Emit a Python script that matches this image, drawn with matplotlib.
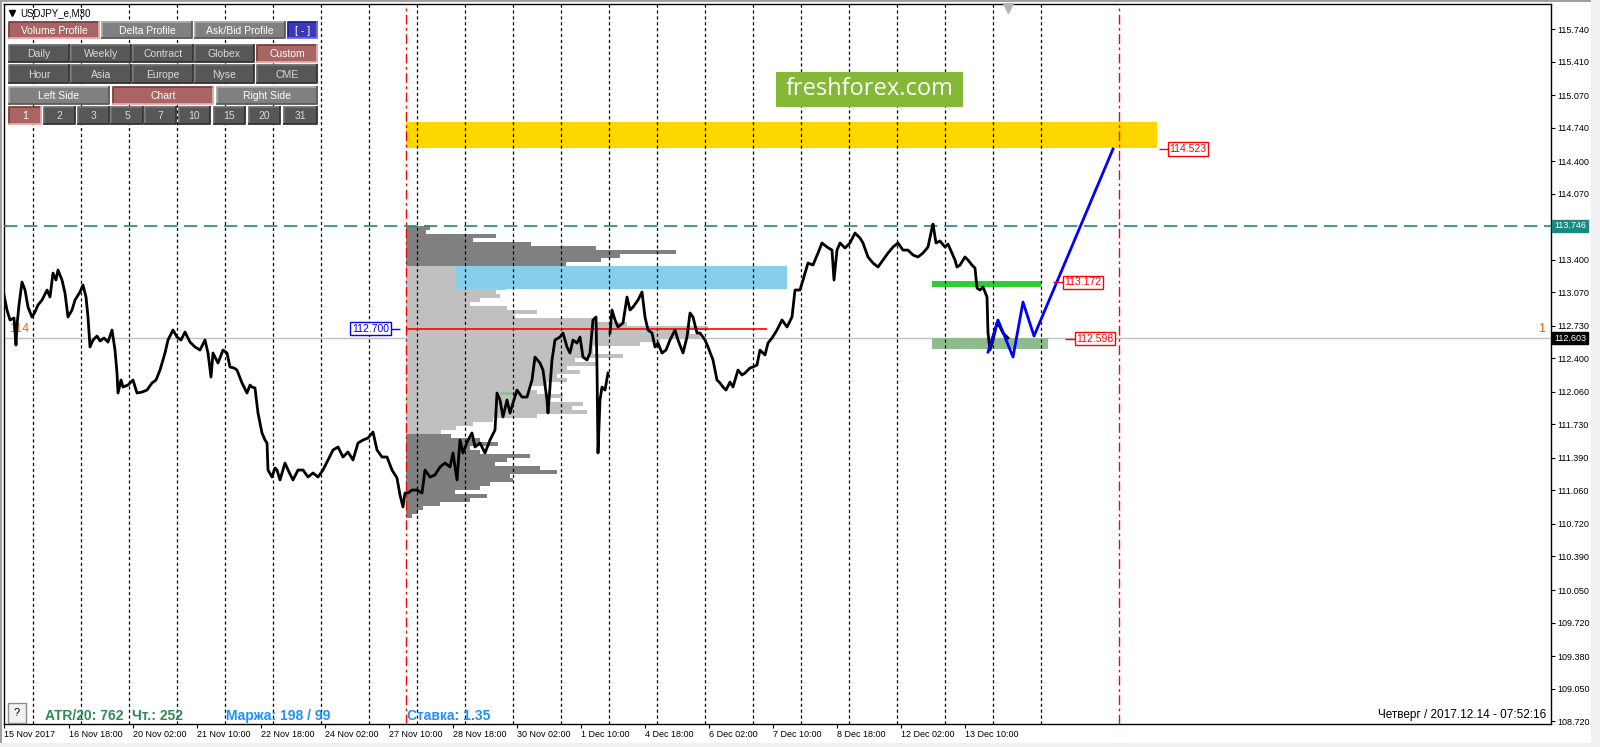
import matplotlib
matplotlib.use('Agg')
import matplotlib.pyplot as plt
from matplotlib.patches import Rectangle
import numpy as np

plt.rcParams['font.family'] = ['Liberation Sans', 'DejaVu Sans']

W, H = 1600, 747

SYMBOL = 'USDJPY_e,M30'

# M30 closes, x = bar position on screen (one bar per pixel)
PRICE_BAR = [
    4, 7, 10, 14, 16, 17, 19, 22, 25, 28,
    32, 35, 38, 42, 47, 50, 53, 56, 58, 62,
    65, 68, 72, 75, 80, 83, 86, 88, 90, 93,
    97, 100, 104, 108, 112, 115, 117, 118, 121, 123,
    128, 133, 137, 142, 147, 152, 156, 160, 165, 168,
    173, 177, 181, 185, 190, 195, 200, 205, 208, 211,
    213, 218, 223, 227, 230, 234, 237, 242, 247, 250,
    252, 255, 258, 262, 265, 267, 268, 272, 275, 277,
    280, 285, 289, 293, 298, 303, 308, 313, 318, 323,
    328, 333, 338, 343, 348, 353, 358, 363, 368, 373,
    377, 382, 387, 392, 397, 400, 403, 405, 408, 412,
    417, 422, 425, 430, 435, 440, 445, 450, 453, 457,
    460, 463, 468, 472, 475, 480, 485, 490, 495, 497,
    500, 503, 507, 510, 513, 517, 522, 527, 532, 535,
    540, 543, 547, 548, 552, 555, 560, 563, 567, 570,
    573, 577, 580, 583, 587, 590, 593, 596, 597, 598,
    600, 602, 605, 608, 609, 610, 612, 615, 618, 623,
    627, 630, 633, 638, 642, 645, 648, 652, 655, 658,
    662, 666, 670, 675, 678, 683, 687, 690, 693, 697,
    700, 705, 708, 713, 717, 720, 723, 726, 730, 733,
    738, 742, 745, 750, 753, 757, 760, 765, 768, 772,
    777, 782, 787, 792, 795, 800, 803, 808, 813, 818,
    822, 827, 832, 834, 837, 840, 845, 850, 855, 860,
    863, 868, 873, 878, 883, 888, 893, 898, 903, 908,
    913, 918, 923, 928, 932, 933, 936, 940, 945, 948,
    952, 955, 957, 960, 965, 968, 972, 975, 977, 980,
    983, 987, 988, 990, 993, 997, 1000, 1003, 1008,
]
PRICE_CLOSE = [
    113.042, 112.890, 112.789, 112.809, 112.535, 112.738, 112.941, 113.174, 113.093, 112.920,
    112.819, 112.870, 112.941, 112.991, 113.093, 113.022, 113.265, 113.194, 113.296, 113.194,
    113.062, 112.819, 112.890, 112.991, 113.073, 113.143, 113.022, 112.819, 112.515, 112.586,
    112.626, 112.576, 112.606, 112.565, 112.687, 112.484, 112.251, 112.048, 112.180, 112.109,
    112.129, 112.180, 112.048, 112.058, 112.078, 112.150, 112.180, 112.281, 112.454, 112.586,
    112.687, 112.616, 112.586, 112.667, 112.565, 112.515, 112.484, 112.586, 112.454, 112.210,
    112.454, 112.352, 112.484, 112.454, 112.312, 112.302, 112.281, 112.150, 112.048, 112.129,
    112.109, 112.099, 111.845, 111.643, 111.571, 111.541, 111.267, 111.196, 111.288, 111.267,
    111.166, 111.338, 111.247, 111.166, 111.267, 111.267, 111.196, 111.237, 111.196, 111.267,
    111.369, 111.470, 111.501, 111.399, 111.450, 111.369, 111.541, 111.571, 111.592, 111.653,
    111.470, 111.399, 111.399, 111.267, 111.186, 111.014, 110.892, 111.034, 111.034, 111.064,
    111.064, 111.034, 111.267, 111.196, 111.217, 111.298, 111.338, 111.298, 111.440, 111.166,
    111.571, 111.440, 111.571, 111.643, 111.501, 111.541, 111.440, 111.571, 111.673, 112.048,
    111.977, 111.805, 111.977, 111.845, 111.947, 112.078, 112.007, 112.007, 112.180, 112.413,
    112.352, 112.281, 111.977, 111.845, 112.383, 112.586, 112.616, 112.657, 112.515, 112.454,
    112.586, 112.555, 112.616, 112.413, 112.383, 112.454, 112.789, 112.819, 112.312, 111.440,
    111.977, 112.109, 112.078, 112.251, np.nan, 112.657, 112.890, 112.789, 112.718, 112.758,
    113.022, 112.890, 112.920, 112.991, 113.073, 112.819, 112.687, 112.657, 112.515, 112.555,
    112.454, 112.484, 112.586, 112.687, 112.586, 112.454, 112.616, 112.860, 112.819, 112.657,
    112.657, 112.586, 112.515, 112.383, 112.180, 112.150, 112.109, 112.078, 112.160, 112.109,
    112.281, 112.231, 112.251, 112.302, 112.312, 112.332, 112.484, 112.434, 112.555, 112.606,
    112.687, 112.789, 112.718, 112.819, 113.093, 113.093, 113.194, 113.367, 113.346, 113.468,
    113.570, 113.529, 113.498, 113.194, 113.498, 113.570, 113.519, 113.570, 113.671, 113.620,
    113.570, 113.428, 113.367, 113.326, 113.397, 113.468, 113.529, 113.570, 113.498, 113.498,
    113.448, 113.428, 113.468, 113.529, 113.722, 113.762, 113.570, 113.590, 113.529, 113.559,
    113.468, 113.397, 113.326, 113.346, 113.428, 113.397, 113.346, 113.316, 113.113, 113.093,
    113.123, 113.022, 112.657, 112.484, 112.586, 112.758, 112.718, 112.657, 112.606,
]

# hand-drawn forecast path
FORECAST_BAR = [988, 998, 1013, 1023, 1034, 1113]
FORECAST_PRICE = [112.464, 112.789, 112.413, 112.971, 112.626, 114.523]

# volume profile of the custom session (top -> bottom), length in bars
SESSION_START, SESSION_END = 406, 1119
PROFILE_HIGH, PROFILE_LOW = 113.742, 110.780
VALUE_AREA = (111.632, 113.336)
PROFILE_LEN = [
    24, 20, 90, 67, 125, 190, 270, 214, 195, 160,
    218, 200, 190, 180, 175, 100, 90, 94, 74, 64,
    101, 131, 109, 187, 221, 302, 284, 294, 254, 234,
    187, 187, 217, 169, 191, 161, 174, 151, 161, 141,
    124, 131, 157, 141, 177, 166, 181, 131, 87, 67,
    50, 35, 45, 74, 92, 64, 74, 124, 101, 89,
    134, 151, 104, 107, 84, 74, 49, 81, 64, 34,
    17, 12, 6,
]
POC_PRICE = 112.700
POC_END = 767

# drawn objects
TARGET_ZONE = (114.533, 114.797)      # yellow
TARGET_END = 1157
TARGET_LABEL = 114.523
BLUE_ZONE = (113.101, 113.336)
BLUE_X = (455, 787)
RES_LEVEL = (113.121, 113.187)         # green
RES_LABEL = 113.172
SUP_LEVEL = (112.494, 112.606)         # dark sea green
SUP_LABEL = 112.598
LEVEL_X = 932
RES_END, SUP_END = 1041, 1048
DASHED_LEVEL = 113.746
LAST_PRICE = 112.603

Y_TICKS = [115.740, 115.410, 115.070, 114.740, 114.400, 114.070, 113.400, 113.070,
           112.730, 112.400, 112.060, 111.730, 111.390, 111.060, 110.720, 110.390,
           110.050, 109.720, 109.380, 109.050, 108.720]
X_TICK_BARS = [4, 69, 133, 197, 261, 325, 389, 453, 517, 581, 645, 709, 773, 837, 901, 965]
X_TICK_LABELS = ['15 Nov 2017', '16 Nov 18:00', '20 Nov 02:00', '21 Nov 10:00',
                 '22 Nov 18:00', '24 Nov 02:00', '27 Nov 10:00', '28 Nov 18:00',
                 '30 Nov 02:00', '1 Dec 10:00', '4 Dec 18:00', '6 Dec 02:00',
                 '7 Dec 10:00', '8 Dec 18:00', '12 Dec 02:00', '13 Dec 10:00']
DAY_BARS = np.arange(33, 1042, 48)

BUTTON_ROWS = [
    ['Volume Profile', 'Delta Profile', 'Ask/Bid Profile', '[ - ]'],
    ['Daily', 'Weekly', 'Contract', 'Globex', 'Custom'],
    ['Hour', 'Asia', 'Europe', 'Nyse', 'CME'],
    ['Left Side', 'Chart', 'Right Side'],
    ['1', '2', '3', '5', '7', '10', '15', '20', '31'],
]
ACTIVE = {'Volume Profile', 'Custom', 'Chart', '1'}

STATUS_LEFT = [('ATR/20: 762', 45, '#2e8b57'), ('Чт.: 252', 132, '#2e8b57'),
               ('Маржа: 198 / 99', 226, '#1e90ff'), ('Ставка: 1.35', 407, '#1e90ff')]
CLOCK = 'Четверг / 2017.12.14 - 07:52:16'


fig = plt.figure(figsize=(W / 100, H / 100), dpi=100)
fig.patch.set_facecolor('white')
ax = fig.add_axes([4 / W, 1 - 724 / H, 1547 / W, 720 / H])
ax.set_xlim(4, 1551)
ax.set_ylim(108.691, 115.994)
for s in ax.spines.values():
    s.set_color('black')
    s.set_linewidth(1)

# day separators
ax.vlines(DAY_BARS, 108.691, 115.994, colors='black', linewidth=0.9,
          linestyles=(0, (2.5, 2.2)), zorder=3.2)

# current price / dashed level
ax.axhline(LAST_PRICE, color='#c0c0c0', lw=1, zorder=1.5)
ax.axhline(DASHED_LEVEL, color='#1a8a80', lw=1.2, ls=(0, (8, 4)), zorder=3.3)

# volume profile
n = len(PROFILE_LEN)
step = (PROFILE_HIGH - PROFILE_LOW) / n
levels = PROFILE_HIGH - step * (np.arange(n) + 0.5)
in_va = (levels >= VALUE_AREA[0]) & (levels <= VALUE_AREA[1])
colors = np.where(in_va, '#c0c0c0', '#808080')
ax.barh(levels, PROFILE_LEN, left=SESSION_START, height=step, color=colors,
        linewidth=0, zorder=2)
ax.hlines(112.048, 500, 517, color='#8fc08f', lw=2, zorder=2.1)

# zones
ax.add_patch(Rectangle((SESSION_START, TARGET_ZONE[0]), TARGET_END - SESSION_START,
                       TARGET_ZONE[1] - TARGET_ZONE[0], fc='#ffd700', ec='none', zorder=2.5))
ax.add_patch(Rectangle((BLUE_X[0], BLUE_ZONE[0]), BLUE_X[1] - BLUE_X[0],
                       BLUE_ZONE[1] - BLUE_ZONE[0], fc='#87ceeb', ec='none', zorder=2.5))
ax.add_patch(Rectangle((LEVEL_X, RES_LEVEL[0]), RES_END - LEVEL_X,
                       RES_LEVEL[1] - RES_LEVEL[0], fc='#32cd32', ec='none', zorder=2.5))
ax.add_patch(Rectangle((LEVEL_X, SUP_LEVEL[0]), SUP_END - LEVEL_X,
                       SUP_LEVEL[1] - SUP_LEVEL[0], fc='#8fbc8f', ec='none', zorder=2.5))

# POC line
ax.hlines(POC_PRICE, SESSION_START, POC_END, color='red', lw=1.2, zorder=3.4)
ax.hlines(POC_PRICE, 389, SESSION_START - 6, color='blue', lw=1, zorder=6)
ax.text(389, POC_PRICE, f'{POC_PRICE:.3f}', color='blue', fontsize=7.5, ha='right',
        va='center', zorder=7,
        bbox=dict(boxstyle='square,pad=0.15', fc='white', ec='blue', lw=1))

# price
ax.plot(PRICE_BAR, PRICE_CLOSE, color='black', lw=2.0, zorder=5)
ax.plot(FORECAST_BAR, FORECAST_PRICE, color='#0000ff', lw=2, zorder=6)

# session boundaries
for xb in (SESSION_START, SESSION_END):
    ax.axvline(xb, color='red', lw=1, ls=(0, (7, 2.5, 2, 2.5)), zorder=6)


def level_label(price, x0, xbox):
    ax.hlines(price, x0, xbox, color='red', lw=1, zorder=6)
    ax.text(xbox + 1.5, price, f'{price:.3f}', color='red', fontsize=7.5, ha='left',
            va='center', zorder=7,
            bbox=dict(boxstyle='square,pad=0.15', fc='white', ec='red', lw=1))


level_label(TARGET_LABEL, 1159, 1168)
level_label(RES_LABEL, 1053, 1063)
level_label(SUP_LABEL, 1065, 1075)

ax.text(1542, POC_PRICE, '1', color='#ff5a1a', fontsize=9, ha='center', va='center', zorder=7)
ax.text(9, POC_PRICE, '114', color='#ff5a1a', fontsize=9, ha='left', va='center', zorder=4)
ax.plot([1008], [115.955], marker='v', color='#b4b4b4', ms=7, zorder=7, clip_on=False)

# axes ticks
ax.yaxis.tick_right()
ax.set_yticks(Y_TICKS)
ax.set_yticklabels([f'{v:.3f}' for v in Y_TICKS])
ax.tick_params(axis='y', direction='out', length=3, pad=1.5, labelsize=6.5, width=0.8)
ax.set_xticks(X_TICK_BARS)
ax.set_xticklabels(X_TICK_LABELS)
for lbl in ax.get_xticklabels():
    lbl.set_ha('left')
ax.tick_params(axis='x', direction='out', length=3, pad=1, labelsize=6.5, width=0.8)


def axis_marker(price, fc):
    ax.annotate(f'{price:.3f}', xy=(1, price), xycoords=('axes fraction', 'data'),
                xytext=(2.2, 0), textcoords='offset points', ha='left', va='center',
                color='white', fontsize=6.5, zorder=8, annotation_clip=False,
                bbox=dict(boxstyle='square,pad=0.18', fc=fc, ec=fc))


axis_marker(DASHED_LEVEL, '#1a8a80')
axis_marker(LAST_PRICE, 'black')

# --- terminal chrome, drawn in pixel coordinates ---
ui = fig.add_axes([0, 0, 1, 1], zorder=10)
ui.set_xlim(0, W)
ui.set_ylim(H, 0)
ui.axis('off')
ui.patch.set_alpha(0)

ui.add_patch(Rectangle((0, 0), W, 1.5, fc='#a0a0a0', ec='none'))
ui.add_patch(Rectangle((0, 0), 1.5, H, fc='#a0a0a0', ec='none'))
ui.add_patch(Rectangle((0, 743), W, 4, fc='#f0f0f0', ec='none'))
ui.add_patch(Rectangle((1591, 0), 9, H, fc='#f0f0f0', ec='none'))

ui.plot([12], [13], marker='v', color='black', ms=4)
ui.text(20, 13, SYMBOL, fontsize=7, va='center', ha='left')

STYLES = {
    'rose': ('#a96464', '#7a4040', '#eaa6a6', 'white'),
    'grey': ('#808080', '#a8a8a8', '#5a5a5a', 'white'),
    'dark': ('#575757', '#707070', '#333333', '#dadada'),
    'blue': ('#3838b8', '#2020a0', '#6a6ae6', 'white'),
}
ROW_Y = [(22, 38), (45, 62), (65, 83), (87, 104), (107, 124)]
ROW_X = [
    [(9, 99), (102, 192), (195, 285), (288, 317)],
    [(9, 69), (71, 131), (133, 193), (195, 254), (257, 317)],
    [(9, 69), (71, 131), (133, 193), (195, 254), (257, 317)],
    [(9, 109), (113, 213), (217, 317)],
    [(9, 41), (44, 75), (78, 109), (111, 143), (145, 176), (179, 210),
     (214, 245), (249, 280), (284, 317)],
]
for r, labels in enumerate(BUTTON_ROWS):
    y0, y1 = ROW_Y[r]
    for c, lab in enumerate(labels):
        x0, x1 = ROW_X[r][c]
        if lab in ACTIVE:
            style = 'rose'
        elif lab == '[ - ]':
            style = 'blue'
        elif r in (0, 3):
            style = 'grey'
        else:
            style = 'dark'
        fc, tl, br, tc = STYLES[style]
        ui.add_patch(Rectangle((x0, y0), x1 - x0, y1 - y0, fc=fc, ec='none'))
        ui.plot([x0, x0, x1], [y1, y0, y0], color=tl, lw=1.3)
        ui.plot([x0, x1, x1], [y1, y1, y0], color=br, lw=1.3)
        ui.text((x0 + x1) / 2, (y0 + y1) / 2 + 0.5, lab, color=tc, fontsize=7.5,
                ha='center', va='center')

# logo
ui.add_patch(Rectangle((776, 72), 187, 35, fc='#83b937', ec='none'))
ui.text(869.5, 89, 'freshforex.com', color='white', fontsize=17,
        family=['Open Sans', 'DejaVu Sans'], ha='center', va='center')

# bottom status line
ui.add_patch(Rectangle((8, 703), 18, 20, fc='#f2f2f2', ec='#8c8c8c', lw=1))
ui.text(17, 713, '?', fontsize=8, ha='center', va='center')
for txt, x, col in STATUS_LEFT:
    ui.text(x, 716, txt, color=col, fontsize=10, fontweight='bold', ha='left', va='center')
ui.text(1546, 715, CLOCK, color='black', fontsize=8.5, ha='right', va='center')

fig.savefig('out.png', dpi=100)
